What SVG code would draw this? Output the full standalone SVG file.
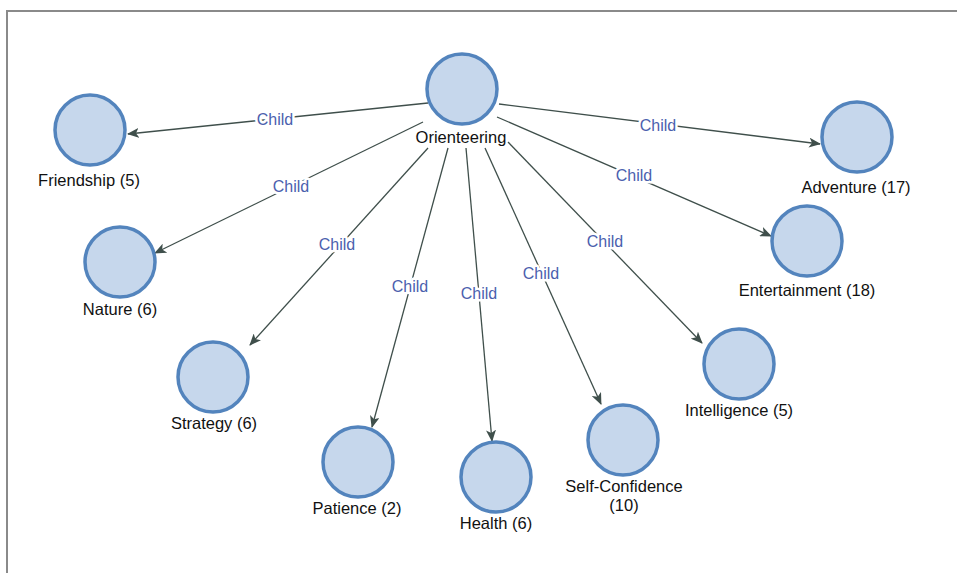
<svg xmlns="http://www.w3.org/2000/svg" width="957" height="573" viewBox="0 0 957 573">
<style>
.node circle{fill:#c6d7ec;stroke:#5384bd;stroke-width:3.5}
.node text{font-family:"Liberation Sans",Arial,sans-serif;font-size:16.5px;fill:#111;text-anchor:middle}
.edge line{stroke:#3f4f4b;stroke-width:1.3;marker-end:url(#arr)}
.edge text{font-family:"Liberation Sans",Arial,sans-serif;font-size:16px;fill:#4b5fae;text-anchor:middle;stroke:#fff;stroke-width:5;paint-order:stroke;stroke-linejoin:round}
</style>
<defs>
<marker id="arr" viewBox="0 0 12 10" refX="11" refY="5" markerWidth="12" markerHeight="10" markerUnits="userSpaceOnUse" orient="auto">
<path d="M0,0 L12,5 L0,10 L3,5 Z" fill="#3f4f4b"/>
</marker>
</defs>
<rect width="957" height="573" fill="#fff"/>
<path d="M7,573 V11 H957" fill="none" stroke="#8a8a8a" stroke-width="2"/>
<g id="connectors">
<g class="edge"><line x1="428" y1="103" x2="128" y2="134"/><text x="275" y="125">Child</text></g>
<g class="edge"><line x1="499" y1="104" x2="820" y2="144"/><text x="658" y="131">Child</text></g>
<g class="edge"><line x1="497" y1="117" x2="771" y2="236"/><text x="634" y="181">Child</text></g>
<g class="edge"><line x1="423" y1="122" x2="155" y2="253"/><text x="291" y="192">Child</text></g>
<g class="edge"><line x1="428" y1="148" x2="250" y2="345"/><text x="337" y="250">Child</text></g>
<g class="edge"><line x1="448" y1="148" x2="372" y2="427"/><text x="410" y="292">Child</text></g>
<g class="edge"><line x1="466" y1="148" x2="492" y2="441"/><text x="479" y="299">Child</text></g>
<g class="edge"><line x1="485" y1="148" x2="601" y2="404"/><text x="541" y="279">Child</text></g>
<g class="edge"><line x1="508" y1="142" x2="702" y2="343"/><text x="605" y="247">Child</text></g>
</g>
<g id="orienteering" class="node"><circle cx="462" cy="89" r="35"/><text x="461" y="143">Orienteering</text></g>
<g id="friendship" class="node"><circle cx="90" cy="130" r="35"/><text x="89" y="186">Friendship (5)</text></g>
<g id="nature" class="node"><circle cx="120" cy="262" r="35"/><text x="120" y="315">Nature (6)</text></g>
<g id="strategy" class="node"><circle cx="213" cy="377" r="35"/><text x="214" y="429">Strategy (6)</text></g>
<g id="patience" class="node"><circle cx="358" cy="462" r="35"/><text x="357" y="514">Patience (2)</text></g>
<g id="health" class="node"><circle cx="496" cy="477" r="35"/><text x="496" y="529">Health (6)</text></g>
<g id="self-confidence" class="node"><circle cx="623" cy="440" r="35"/><text x="624" y="492">Self-Confidence</text><text x="624" y="511">(10)</text></g>
<g id="intelligence" class="node"><circle cx="739" cy="364" r="35"/><text x="739" y="416">Intelligence (5)</text></g>
<g id="entertainment" class="node"><circle cx="807" cy="241" r="35"/><text x="807" y="296">Entertainment (18)</text></g>
<g id="adventure" class="node"><circle cx="857" cy="137" r="35"/><text x="856" y="193">Adventure (17)</text></g>
</svg>
